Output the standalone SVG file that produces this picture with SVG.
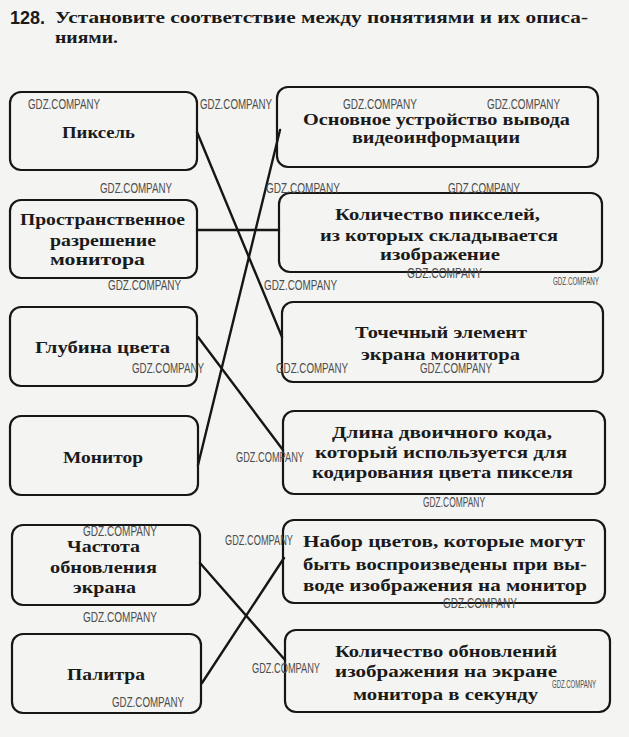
<svg xmlns="http://www.w3.org/2000/svg" width="629" height="737" viewBox="0 0 629 737">
<style>
.bx{fill:none;stroke:#161616;stroke-width:2.2}
.t{font-family:"Liberation Serif","DejaVu Serif",serif;font-weight:bold;font-size:17px;fill:#1a1a1a}
.c{stroke:#161616;stroke-width:2.4;fill:none;stroke-linecap:round}
.w{font-family:"Liberation Sans","DejaVu Sans",sans-serif;font-size:15px;fill:#4d4d4d}
.ws{font-family:"Liberation Sans","DejaVu Sans",sans-serif;font-size:10px;fill:#4d4d4d}
</style>
<rect x="0" y="0" width="629" height="737" fill="#f4f4f2"/>
<g id="title">
<text x="10" y="24" font-family="Liberation Sans, DejaVu Sans, sans-serif" font-weight="bold" font-size="18" fill="#1a1a1a">128.</text>
<text class="t" x="55" y="23" font-size="16" textLength="533" lengthAdjust="spacingAndGlyphs">Установите соответствие между понятиями и их описа-</text>
<text class="t" x="55" y="43" font-size="16" textLength="63" lengthAdjust="spacingAndGlyphs">ниями.</text>
</g>
<g id="connectors">
<line class="c" x1="197" y1="132" x2="282" y2="337"/>
<line class="c" x1="197" y1="230" x2="279" y2="230"/>
<line class="c" x1="198" y1="337" x2="283" y2="450"/>
<line class="c" x1="198" y1="465" x2="280" y2="130"/>
<line class="c" x1="200" y1="563" x2="285" y2="660"/>
<line class="c" x1="202" y1="683" x2="284" y2="558"/>
</g>
<g id="n-piksel"><rect class="bx" x="10" y="92" width="187" height="78" rx="11"/>
<text class="t" x="62" y="138" textLength="73" lengthAdjust="spacingAndGlyphs">Пиксель</text></g>
<g id="n-razreshenie"><rect class="bx" x="10" y="200" width="187" height="78" rx="11"/>
<text class="t" x="20" y="225" textLength="165" lengthAdjust="spacingAndGlyphs">Пространственное</text>
<text class="t" x="50" y="246" textLength="106" lengthAdjust="spacingAndGlyphs">разрешение</text>
<text class="t" x="50" y="265" textLength="95" lengthAdjust="spacingAndGlyphs">монитора</text></g>
<g id="n-glubina"><rect class="bx" x="10" y="307" width="187" height="79" rx="11"/>
<text class="t" x="35" y="353" textLength="135" lengthAdjust="spacingAndGlyphs">Глубина  цвета</text></g>
<g id="n-monitor"><rect class="bx" x="10" y="416" width="188" height="79" rx="11"/>
<text class="t" x="63" y="463" textLength="80" lengthAdjust="spacingAndGlyphs">Монитор</text></g>
<g id="n-chastota"><rect class="bx" x="12" y="525" width="188" height="80" rx="11"/>
<text class="t" x="67" y="552" textLength="73" lengthAdjust="spacingAndGlyphs">Частота</text>
<text class="t" x="50" y="573" textLength="107" lengthAdjust="spacingAndGlyphs">обновления</text>
<text class="t" x="73" y="593" textLength="63" lengthAdjust="spacingAndGlyphs">экрана</text></g>
<g id="n-palitra"><rect class="bx" x="12" y="634" width="189" height="79" rx="11"/>
<text class="t" x="67" y="680" textLength="78" lengthAdjust="spacingAndGlyphs">Палитра</text></g>
<g id="d-ustroistvo"><rect class="bx" x="277" y="87" width="321" height="80" rx="11"/>
<text class="t" x="303" y="125" textLength="267" lengthAdjust="spacingAndGlyphs">Основное устройство вывода</text>
<text class="t" x="352" y="143" textLength="168" lengthAdjust="spacingAndGlyphs">видеоинформации</text></g>
<g id="d-kolichestvo-pikseley"><rect class="bx" x="279" y="193" width="323" height="79" rx="11"/>
<text class="t" x="335" y="220" textLength="205" lengthAdjust="spacingAndGlyphs">Количество пикселей,</text>
<text class="t" x="320" y="241" textLength="238" lengthAdjust="spacingAndGlyphs">из которых складывается</text>
<text class="t" x="380" y="260" textLength="120" lengthAdjust="spacingAndGlyphs">изображение</text></g>
<g id="d-tochechny"><rect class="bx" x="282" y="302" width="321" height="80" rx="11"/>
<text class="t" x="355" y="338" textLength="172" lengthAdjust="spacingAndGlyphs">Точечный элемент</text>
<text class="t" x="361" y="360" textLength="159" lengthAdjust="spacingAndGlyphs">экрана монитора</text></g>
<g id="d-dlina"><rect class="bx" x="283" y="411" width="322" height="83" rx="11"/>
<text class="t" x="332" y="438" textLength="220" lengthAdjust="spacingAndGlyphs">Длина двоичного кода,</text>
<text class="t" x="315" y="458" textLength="252" lengthAdjust="spacingAndGlyphs">который используется для</text>
<text class="t" x="312" y="478" textLength="261" lengthAdjust="spacingAndGlyphs">кодирования цвета пикселя</text></g>
<g id="d-nabor"><rect class="bx" x="283" y="520" width="322" height="83" rx="11"/>
<text class="t" x="303" y="547" textLength="282" lengthAdjust="spacingAndGlyphs">Набор цветов, которые могут</text>
<text class="t" x="303" y="570" textLength="284" lengthAdjust="spacingAndGlyphs">быть воспроизведены при вы-</text>
<text class="t" x="303" y="591" textLength="284" lengthAdjust="spacingAndGlyphs">воде изображения на монитор</text></g>
<g id="d-obnovleniya"><rect class="bx" x="285" y="630" width="325" height="82" rx="11"/>
<text class="t" x="335" y="657" textLength="222" lengthAdjust="spacingAndGlyphs">Количество обновлений</text>
<text class="t" x="335" y="677" textLength="222" lengthAdjust="spacingAndGlyphs">изображения на экране</text>
<text class="t" x="353" y="700" textLength="185" lengthAdjust="spacingAndGlyphs">монитора в секунду</text></g>
<g id="watermarks">
<text class="w" x="28" y="109" textLength="72" lengthAdjust="spacingAndGlyphs">GDZ.COMPANY</text>
<text class="w" x="200" y="109" textLength="72" lengthAdjust="spacingAndGlyphs">GDZ.COMPANY</text>
<text class="w" x="343" y="109" textLength="74" lengthAdjust="spacingAndGlyphs">GDZ.COMPANY</text>
<text class="w" x="487" y="109" textLength="73" lengthAdjust="spacingAndGlyphs">GDZ.COMPANY</text>
<text class="w" x="100" y="193" textLength="72" lengthAdjust="spacingAndGlyphs">GDZ.COMPANY</text>
<text class="w" x="266" y="193" textLength="74" lengthAdjust="spacingAndGlyphs">GDZ.COMPANY</text>
<text class="w" x="448" y="193" textLength="72" lengthAdjust="spacingAndGlyphs">GDZ.COMPANY</text>
<text class="w" x="108" y="290" textLength="73" lengthAdjust="spacingAndGlyphs">GDZ.COMPANY</text>
<text class="w" x="264" y="290" textLength="73" lengthAdjust="spacingAndGlyphs">GDZ.COMPANY</text>
<text class="w" x="407" y="278" textLength="75" lengthAdjust="spacingAndGlyphs">GDZ.COMPANY</text>
<text class="ws" x="553" y="285" textLength="46" lengthAdjust="spacingAndGlyphs">GDZ.COMPANY</text>
<text class="w" x="132" y="373" textLength="72" lengthAdjust="spacingAndGlyphs">GDZ.COMPANY</text>
<text class="w" x="276" y="373" textLength="72" lengthAdjust="spacingAndGlyphs">GDZ.COMPANY</text>
<text class="w" x="420" y="373" textLength="72" lengthAdjust="spacingAndGlyphs">GDZ.COMPANY</text>
<text class="w" x="236" y="462" textLength="68" lengthAdjust="spacingAndGlyphs">GDZ.COMPANY</text>
<text class="w" x="423" y="507" textLength="62" lengthAdjust="spacingAndGlyphs">GDZ.COMPANY</text>
<text class="w" x="83" y="536" textLength="74" lengthAdjust="spacingAndGlyphs">GDZ.COMPANY</text>
<text class="w" x="225" y="545" textLength="68" lengthAdjust="spacingAndGlyphs">GDZ.COMPANY</text>
<text class="w" x="83" y="622" textLength="74" lengthAdjust="spacingAndGlyphs">GDZ.COMPANY</text>
<text class="w" x="443" y="608" textLength="74" lengthAdjust="spacingAndGlyphs">GDZ.COMPANY</text>
<text class="w" x="252" y="673" textLength="68" lengthAdjust="spacingAndGlyphs">GDZ.COMPANY</text>
<text class="ws" x="552" y="688" textLength="44" lengthAdjust="spacingAndGlyphs">GDZ.COMPANY</text>
<text class="w" x="112" y="707" textLength="72" lengthAdjust="spacingAndGlyphs">GDZ.COMPANY</text>
</g>
</svg>
